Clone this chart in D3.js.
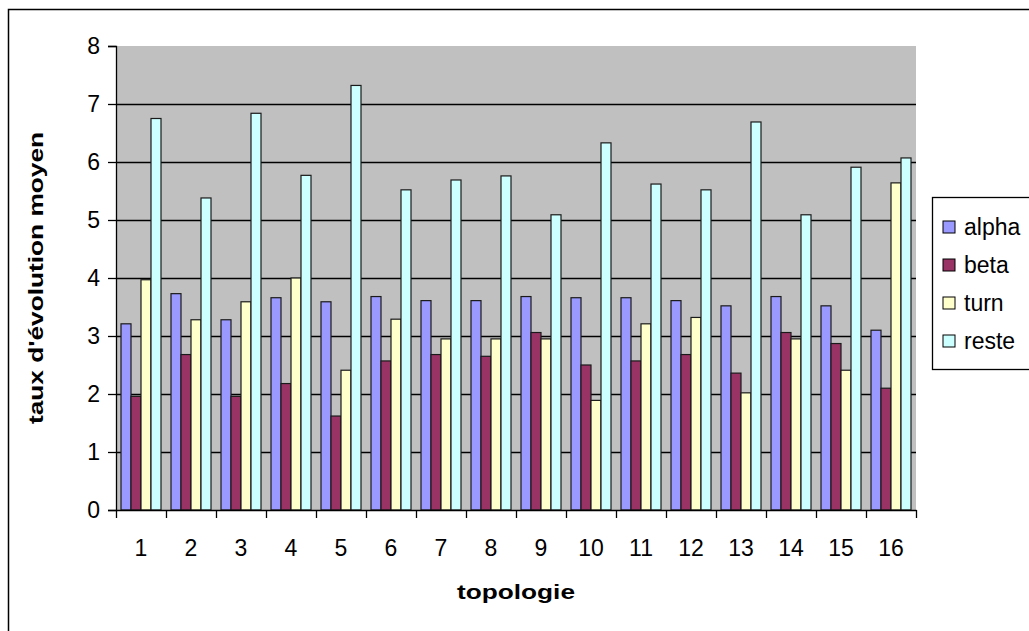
<!DOCTYPE html>
<html>
<head>
<meta charset="utf-8">
<script src="https://cdn.jsdelivr.net/npm/d3@7"></script>
<style>
  html, body { margin: 0; padding: 0; background: #fff; }
  svg { display: block; font-family: "Liberation Sans", Arial, sans-serif; }
</style>
</head>
<body>
<svg id="chart" width="1029" height="631"></svg>
<script>
// Topology categories and per-series mean evolution rates
const categories = ["1","2","3","4","5","6","7","8","9","10","11","12","13","14","15","16"];
const seriesNames = ["alpha", "beta", "turn", "reste"];
const alpha = [3.21, 3.73, 3.28, 3.66, 3.59, 3.68, 3.61, 3.61, 3.68, 3.66, 3.66, 3.61, 3.52, 3.68, 3.52, 3.10];
const beta  = [1.96, 2.68, 1.96, 2.18, 1.62, 2.57, 2.68, 2.65, 3.06, 2.50, 2.57, 2.68, 2.36, 3.06, 2.87, 2.10];
const turn  = [3.97, 3.28, 3.59, 4.00, 2.41, 3.29, 2.95, 2.95, 2.95, 1.89, 3.21, 3.32, 2.02, 2.95, 2.41, 5.64];
const reste = [6.75, 5.38, 6.84, 5.77, 7.32, 5.52, 5.69, 5.76, 5.09, 6.33, 5.62, 5.52, 6.69, 5.09, 5.91, 6.07];
const yTicks = [0, 1, 2, 3, 4, 5, 6, 7, 8];

const seriesValues = { alpha, beta, turn, reste };
const colors = { alpha: "#9999FF", beta: "#993366", turn: "#FFFFCC", reste: "#CCFFFF" };

const svg = d3.select("#chart");
const plot = { left: 116, top: 46, right: 916, bottom: 510 };
const FONT = "Liberation Sans, Arial, sans-serif";

// Outer chart frame (extends past the right and bottom edges)
svg.append("rect")
  .attr("x", 8.5).attr("y", 9.5)
  .attr("width", 1100).attr("height", 700)
  .attr("fill", "#fff").attr("stroke", "#000").attr("stroke-width", 1.5);

const x0 = d3.scaleBand().domain(categories).range([plot.left, plot.right]).padding(0);
const x1 = d3.scaleBand().domain(seriesNames)
  .range([x0.bandwidth() * 0.1, x0.bandwidth() * 0.9]).padding(0);
const y = d3.scaleLinear().domain([0, 8]).range([plot.bottom, plot.top]);

// Plot area background
svg.append("rect")
  .attr("x", plot.left).attr("y", plot.top)
  .attr("width", plot.right - plot.left).attr("height", plot.bottom - plot.top)
  .attr("fill", "#C0C0C0");

// Horizontal gridlines
svg.append("g")
  .selectAll("line")
  .data(yTicks.filter(d => d > 0 && d < 8))
  .join("line")
  .attr("x1", plot.left).attr("x2", plot.right)
  .attr("y1", d => Math.round(y(d)) + 0.5).attr("y2", d => Math.round(y(d)) + 0.5)
  .attr("stroke", "#000").attr("stroke-width", 1.3);

// Grouped bars
const groups = svg.append("g")
  .selectAll("g")
  .data(categories)
  .join("g")
  .attr("transform", d => `translate(${x0(d)},0)`);

groups.selectAll("rect")
  .data((c, i) => seriesNames.map(s => ({ s, v: seriesValues[s][i] })))
  .join("rect")
  .attr("x", d => x1(d.s))
  .attr("y", d => y(d.v))
  .attr("width", x1.bandwidth())
  .attr("height", d => y(0) - y(d.v))
  .attr("fill", d => colors[d.s])
  .attr("stroke", "#1a1a1a")
  .attr("stroke-width", 1.2);

// Y axis
const yAxis = d3.axisLeft(y).tickValues(yTicks).tickSize(8).tickPadding(8).tickFormat(d3.format("d"));
const gy = svg.append("g").attr("transform", `translate(${plot.left},0)`).call(yAxis);
gy.select(".domain").attr("stroke", "#000").attr("stroke-width", 1.3);
gy.selectAll(".tick line").attr("stroke", "#000").attr("stroke-width", 1.3);
gy.selectAll(".tick text").attr("font-size", 23).attr("fill", "#000").attr("font-family", FONT);

// X axis: category labels centred, ticks at category boundaries
const xAxis = d3.axisBottom(x0).tickSize(0);
const gx = svg.append("g").attr("transform", `translate(0,${plot.bottom})`).call(xAxis);
gx.select(".domain").attr("stroke", "#000").attr("stroke-width", 1.3);
gx.selectAll(".tick text")
  .attr("y", 38).attr("dy", "0.35em")
  .attr("font-size", 23).attr("fill", "#000").attr("font-family", FONT);
svg.append("g")
  .selectAll("line")
  .data(categories.concat(["end"]))
  .join("line")
  .attr("x1", (d, i) => plot.left + i * x0.bandwidth() + 0.5)
  .attr("x2", (d, i) => plot.left + i * x0.bandwidth() + 0.5)
  .attr("y1", plot.bottom).attr("y2", plot.bottom + 8)
  .attr("stroke", "#000").attr("stroke-width", 1.3);

// Axis titles
svg.append("text")
  .attr("x", (plot.left + plot.right) / 2).attr("y", 592).attr("dy", "0.35em")
  .attr("text-anchor", "middle")
  .attr("font-size", 21).attr("font-weight", "bold")
  .attr("textLength", 118).attr("lengthAdjust", "spacingAndGlyphs")
  .text("topologie");

svg.append("text")
  .attr("transform", `translate(43,${(plot.top + plot.bottom) / 2}) rotate(-90)`)
  .attr("text-anchor", "middle")
  .attr("font-size", 21).attr("font-weight", "bold")
  .attr("textLength", 292).attr("lengthAdjust", "spacingAndGlyphs")
  .text("taux d'évolution moyen");

// Legend
const legend = svg.append("g").attr("transform", "translate(932,197)");
legend.append("rect")
  .attr("x", 0.5).attr("y", 0.5).attr("width", 120).attr("height", 172)
  .attr("fill", "#fff").attr("stroke", "#000").attr("stroke-width", 1.3);
const items = legend.selectAll("g.item")
  .data(seriesNames)
  .join("g")
  .attr("class", "item")
  .attr("transform", (d, i) => `translate(11,${30 + i * 38})`);
items.append("rect")
  .attr("x", 0).attr("y", -6).attr("width", 12).attr("height", 12)
  .attr("fill", d => colors[d]).attr("stroke", "#000").attr("stroke-width", 1);
items.append("text")
  .attr("x", 21).attr("y", 0).attr("dy", "0.35em")
  .attr("font-size", 23).attr("font-family", FONT)
  .text(d => d);
</script>
</body>
</html>
